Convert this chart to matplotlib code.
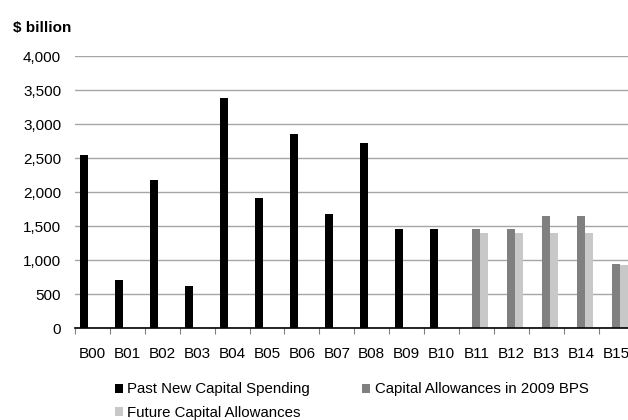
import numpy as np
from matplotlib import pyplot as plt

plt.rcParams['font.family'] = ['Liberation Sans', 'DejaVu Sans']

categories = ['B00', 'B01', 'B02', 'B03', 'B04', 'B05', 'B06', 'B07',
              'B08', 'B09', 'B10', 'B11', 'B12', 'B13', 'B14', 'B15']
past_spending = [2550, 710, 2175, 615, 3380, 1910, 2850, 1680,
                 2725, 1450, 1450, 0, 0, 0, 0, 0]
allowances_2009 = [0, 0, 0, 0, 0, 0, 0, 0,
                   0, 0, 0, 1450, 1450, 1650, 1650, 935]
future_allowances = [0, 0, 0, 0, 0, 0, 0, 0,
                     0, 0, 0, 1395, 1395, 1395, 1395, 930]
yticks = [0, 500, 1000, 1500, 2000, 2500, 3000, 3500, 4000]

fig = plt.figure(figsize=(6.28, 4.2), dpi=100)
ax = fig.add_axes([75 / 628, 1 - 328 / 420, 558.5 / 628, 272 / 420])

x = np.arange(len(categories))
w = 0.229
b1 = ax.bar(x - w, past_spending, w, color='#000000', linewidth=0, zorder=3)
b2 = ax.bar(x, allowances_2009, w, color='#808080', linewidth=0, zorder=3)
b3 = ax.bar(x + w, future_allowances, w, color='#c8c8c8', linewidth=0, zorder=3)

ax.set_xlim(-0.5, len(categories) - 0.5)
ax.set_ylim(0, 4000)
ax.set_yticks(yticks)
ax.set_yticklabels(['{:,}'.format(v) for v in yticks], fontsize=11)
ax.set_xticks(x)
ax.set_xticklabels(categories, fontsize=11)
ax.set_xticks(np.arange(-0.5, len(categories), 1), minor=True)

ax.tick_params(axis='y', length=0, pad=10)
ax.tick_params(axis='x', which='major', length=0, pad=13.5)
ax.tick_params(axis='x', which='minor', length=4, width=0.8, color='#808080', direction='out')

ax.grid(axis='y', color='#a6a6a6', linewidth=1, zorder=0)
for s in ['left', 'right', 'top']:
    ax.spines[s].set_visible(False)
ax.spines['bottom'].set_color('#000000')
ax.spines['bottom'].set_linewidth(1.2)
ax.spines['bottom'].set_zorder(4)

fig.text(13 / 628, 1 - 28 / 420, '$ billion', fontsize=11, fontweight='bold', va='center', ha='left')

fig.legend([b1, b3, b2],
           ['Past New Capital Spending', 'Future Capital Allowances', 'Capital Allowances in 2009 BPS'],
           ncol=2, loc='upper left', bbox_to_anchor=(107 / 628, 1 - 375 / 420),
           frameon=False, fontsize=10.8, handlelength=0.55, handleheight=0.55,
           handletextpad=0.28, columnspacing=3.5, labelspacing=0.6, borderpad=0)

plt.savefig('out.png', dpi=100)
plt.close()
